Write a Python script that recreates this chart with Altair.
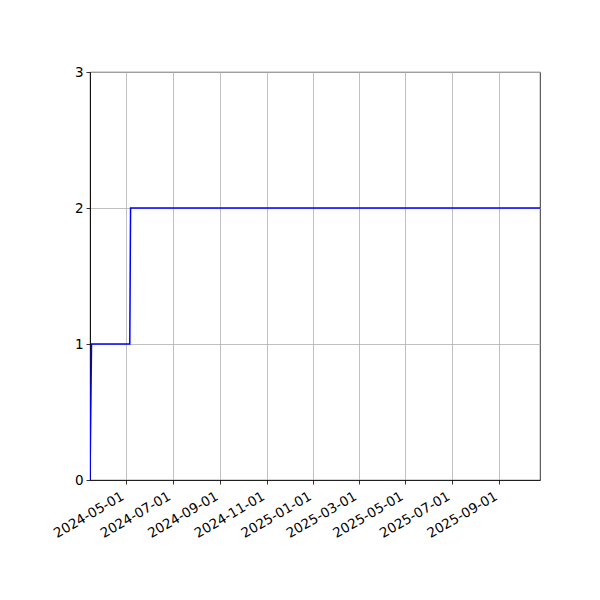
import altair as alt
import pandas as pd

dates = ["2024-03-15", "2024-03-17", "2024-05-06", "2024-05-07", "2025-10-24"]
values = [0, 1, 1, 2, 2]
tick_dates = ["2024-05-01", "2024-07-01", "2024-09-01", "2024-11-01", "2025-01-01",
              "2025-03-01", "2025-05-01", "2025-07-01", "2025-09-01"]
x_domain = ["2024-03-15", "2025-10-24"]
y_ticks = [0, 1, 2, 3]

df = pd.DataFrame({"date": pd.to_datetime(dates), "value": values})

font = "DejaVu Sans"
chart = alt.Chart(df).mark_line(color="#0000ff", strokeWidth=1.5, clip=True).encode(
    x=alt.X("date:T",
            scale=alt.Scale(domain=[pd.Timestamp(d).isoformat() for d in x_domain], nice=False),
            axis=alt.Axis(values=[pd.Timestamp(d).isoformat() for d in tick_dates],
                          format="%Y-%m-%d", labelAngle=-30, labelAlign="right",
                          labelBaseline="top", labelOverlap=False, labelFlush=False,
                          labelOffset=-7, labelPadding=5, title=None, grid=True)),
    y=alt.Y("value:Q", scale=alt.Scale(domain=[0, 3], nice=False),
            axis=alt.Axis(values=y_ticks, format="d", title=None, grid=True,
                          labelOverlap=False)),
).properties(
    width=450, height=408,
    autosize=alt.AutoSizeParams(type="none"),
    padding={"left": 82, "top": 64, "right": 52, "bottom": 112},
).configure_view(
    stroke="black", strokeWidth=0.8
).configure_axis(
    labelFont=font, labelFontSize=13.5, labelColor="black",
    domainColor="black", domainWidth=0.8,
    tickColor="black", tickWidth=0.8, tickSize=4,
    gridColor="#b0b0b0", gridWidth=0.8, labelPadding=3,
)

chart.save("out.html", embed_options={"renderer": "svg", "actions": False})
